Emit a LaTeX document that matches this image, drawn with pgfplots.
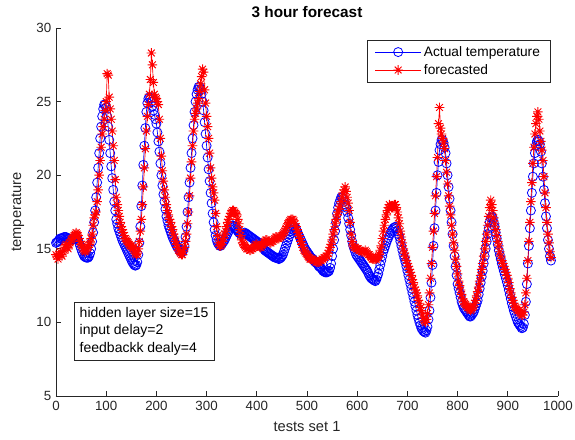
\documentclass[border=0pt]{standalone}
\usepackage{fontspec}
\setmainfont{Liberation Sans}
\usepackage{pgfplots}
\pgfplotsset{compat=1.18}

\definecolor{axgray}{gray}{0.15}

% MATLAB-style '*' marker: a plus and a cross on top of each other
\pgfdeclareplotmark{mstar}{%
  \pgfpathmoveto{\pgfqpoint{0pt}{\pgfplotmarksize}}%
  \pgfpathlineto{\pgfqpoint{0pt}{-\pgfplotmarksize}}%
  \pgfpathmoveto{\pgfqpoint{\pgfplotmarksize}{0pt}}%
  \pgfpathlineto{\pgfqpoint{-\pgfplotmarksize}{0pt}}%
  \pgfpathmoveto{\pgfqpoint{0.707\pgfplotmarksize}{0.707\pgfplotmarksize}}%
  \pgfpathlineto{\pgfqpoint{-0.707\pgfplotmarksize}{-0.707\pgfplotmarksize}}%
  \pgfpathmoveto{\pgfqpoint{0.707\pgfplotmarksize}{-0.707\pgfplotmarksize}}%
  \pgfpathlineto{\pgfqpoint{-0.707\pgfplotmarksize}{0.707\pgfplotmarksize}}%
  \pgfusepathqstroke}

\begin{document}
\begin{tikzpicture}
\begin{axis}[
    name=ax,
    width=376.5pt, height=276pt,
    scale only axis,
    xmin=0, xmax=1000, ymin=5, ymax=30,
    xtick={0,100,...,1000}, ytick={5,10,...,30},
    axis x line*=bottom, axis y line*=left,
    tick align=inside,
    major tick length=4pt,
    axis line style={axgray, line width=0.5pt},
    every tick/.style={axgray, line width=0.5pt},
    tick label style={font=\fontsize{10}{12}\selectfont, text=axgray},
    /pgf/number format/assume math mode=true,
    /pgf/number format/1000 sep={},
    title={\bfseries 3 hour forecast},
    title style={font=\fontsize{11.5}{13}\selectfont, yshift=-2pt},
    xlabel={tests set 1},
    ylabel={temperature},
    label style={font=\fontsize{11}{13}\selectfont, text=axgray},
    xlabel style={at={(axis description cs:0.5,-0.083)}, anchor=center},
    ylabel style={at={(axis description cs:-0.0757,0.5)}, anchor=center},
    legend style={at={(rel axis cs:0.986,0.968)}, anchor=north east,
        draw=axgray, line width=0.5pt, font=\fontsize{10.3}{12}\selectfont,
        inner xsep=6pt, inner ysep=2.5pt, row sep=0.5pt},
    legend cell align=left,
    legend image code/.code={
        \draw[mark repeat=2, mark phase=2] plot coordinates {(0cm,0cm) (0.6cm,0cm) (1.2cm,0cm)};
    },
]
% actual temperature
\addplot[blue, line width=0.5pt, mark=o, mark size=3.4pt, mark options={line width=0.6pt}] coordinates {
(0,15.4)(2,15.45)(4,15.5)(6,15.6)(8,15.7)(10,15.7)(12,15.7)(14,15.75)(16,15.8)(18,15.8)
(20,15.8)(22,15.75)(24,15.7)(26,15.65)(28,15.6)(30,15.6)(32,15.6)(34,15.65)(36,15.7)(38,15.75)
(40,15.8)(42,15.7)(44,15.6)(46,15.4)(48,15.2)(50,15.0)(52,14.8)(54,14.65)(56,14.5)(58,14.45)
(60,14.4)(62,14.4)(64,14.4)(66,14.5)(68,14.7)(70,15.0)(72,15.5)(74,16.1)(76,16.8)(78,17.6)
(80,18.5)(82,19.5)(84,20.5)(86,21.5)(88,22.5)(90,23.3)(92,24.0)(94,24.5)(96,24.8)(98,24.8)
(100,24.6)(102,24.0)(104,23.3)(106,22.4)(108,21.5)(110,20.6)(112,19.8)(114,19.0)(116,18.2)(118,17.6)
(120,17.0)(122,16.7)(124,16.4)(126,16.2)(128,16.0)(130,15.8)(132,15.6)(134,15.45)(136,15.3)(138,15.15)
(140,15.0)(142,14.85)(144,14.7)(146,14.55)(148,14.4)(150,14.25)(152,14.1)(154,14.0)(156,13.9)(158,13.85)
(160,13.9)(162,14.1)(164,14.6)(166,15.4)(168,16.5)(170,17.9)(172,19.3)(174,20.7)(176,22.0)(178,23.2)
(180,24.3)(182,24.9)(184,25.2)(186,25.3)(188,25.2)(190,25.0)(192,24.7)(194,24.4)(196,24.1)(198,23.8)
(200,23.5)(202,22.9)(204,22.3)(206,21.6)(208,20.8)(210,20.0)(212,19.3)(214,18.7)(216,18.2)(218,17.7)
(220,17.2)(222,16.9)(224,16.6)(226,16.4)(228,16.2)(230,16.0)(232,15.8)(234,15.65)(236,15.5)(238,15.35)
(240,15.2)(242,15.1)(244,15.0)(246,14.9)(248,14.8)(250,14.75)(252,14.8)(254,14.95)(256,15.2)(258,15.8)
(260,16.5)(262,17.5)(264,18.5)(266,19.5)(268,20.5)(270,21.5)(272,22.5)(274,23.4)(276,24.3)(278,25.0)
(280,25.5)(282,25.8)(284,26.0)(286,26.0)(288,25.8)(290,25.5)(292,25.0)(294,24.4)(296,23.6)(298,22.8)
(300,22.0)(302,21.2)(304,20.4)(306,19.6)(308,18.8)(310,18.1)(312,17.4)(314,16.8)(316,16.3)(318,15.9)
(320,15.6)(322,15.4)(324,15.3)(326,15.2)(328,15.2)(330,15.3)(332,15.4)(334,15.5)(336,15.6)(338,15.75)
(340,15.9)(342,16.05)(344,16.2)(346,16.35)(348,16.5)(350,16.55)(352,16.6)(354,16.55)(356,16.5)(358,16.4)
(360,16.3)(362,16.2)(364,16.1)(366,16.05)(368,16.0)(370,16.0)(372,16.0)(374,16.05)(376,16.1)(378,16.05)
(380,16.0)(382,15.95)(384,15.9)(386,15.85)(388,15.8)(390,15.75)(392,15.7)(394,15.65)(396,15.6)(398,15.55)
(400,15.5)(402,15.45)(404,15.4)(406,15.35)(408,15.3)(410,15.2)(412,15.1)(414,15.0)(416,14.9)(418,14.85)
(420,14.8)(422,14.75)(424,14.7)(426,14.65)(428,14.6)(430,14.55)(432,14.5)(434,14.45)(436,14.4)(438,14.4)
(440,14.4)(442,14.35)(444,14.3)(446,14.35)(448,14.4)(450,14.5)(452,14.6)(454,14.8)(456,15.0)(458,15.2)
(460,15.4)(462,15.6)(464,15.8)(466,16.0)(468,16.2)(470,16.3)(472,16.4)(474,16.45)(476,16.5)(478,16.35)
(480,16.2)(482,16.05)(484,15.9)(486,15.75)(488,15.6)(490,15.45)(492,15.3)(494,15.15)(496,15.0)(498,14.9)
(500,14.8)(502,14.7)(504,14.6)(506,14.5)(508,14.4)(510,14.35)(512,14.3)(514,14.2)(516,14.1)(518,14.05)
(520,14.0)(522,13.9)(524,13.8)(526,13.75)(528,13.7)(530,13.6)(532,13.5)(534,13.45)(536,13.4)(538,13.4)
(540,13.4)(542,13.45)(544,13.5)(546,13.7)(548,14.0)(550,14.5)(552,15.0)(554,15.6)(556,16.2)(558,16.8)
(560,17.4)(562,17.8)(564,18.1)(566,18.3)(568,18.5)(570,18.5)(572,18.4)(574,18.2)(576,18.0)(578,17.8)
(580,17.5)(582,17.1)(584,16.7)(586,16.3)(588,15.9)(590,15.5)(592,15.2)(594,15.0)(596,14.8)(598,14.6)
(600,14.5)(602,14.4)(604,14.3)(606,14.2)(608,14.1)(610,14.0)(612,13.9)(614,13.8)(616,13.7)(618,13.6)
(620,13.5)(622,13.35)(624,13.2)(626,13.1)(628,13.0)(630,12.95)(632,12.9)(634,12.85)(636,12.8)(638,12.9)
(640,13.1)(642,13.3)(644,13.6)(646,13.9)(648,14.2)(650,14.5)(652,14.8)(654,15.0)(656,15.2)(658,15.4)
(660,15.6)(662,15.75)(664,15.9)(666,16.05)(668,16.2)(670,16.3)(672,16.4)(674,16.45)(676,16.5)(678,16.4)
(680,16.2)(682,16.0)(684,15.8)(686,15.5)(688,15.2)(690,14.9)(692,14.6)(694,14.35)(696,14.1)(698,13.8)
(700,13.5)(702,13.2)(704,12.9)(706,12.6)(708,12.3)(710,12.0)(712,11.7)(714,11.4)(716,11.1)(718,10.8)
(720,10.5)(722,10.25)(724,10.0)(726,9.8)(728,9.6)(730,9.5)(732,9.4)(734,9.35)(736,9.3)(738,9.45)
(740,9.7)(742,10.2)(744,10.8)(746,11.7)(748,12.7)(750,13.9)(752,15.2)(754,16.4)(756,17.6)(758,18.8)
(760,20.0)(762,20.9)(764,21.7)(766,22.1)(768,22.4)(770,22.4)(772,22.2)(774,21.9)(776,21.5)(778,20.8)
(780,20.0)(782,19.2)(784,18.4)(786,17.6)(788,16.8)(790,16.0)(792,15.2)(794,14.5)(796,13.8)(798,13.2)
(800,12.6)(802,12.3)(804,12.0)(806,11.7)(808,11.4)(810,11.2)(812,11.0)(814,10.9)(816,10.8)(818,10.7)
(820,10.6)(822,10.5)(824,10.4)(826,10.4)(828,10.5)(830,10.6)(832,10.7)(834,10.9)(836,11.1)(838,11.3)
(840,11.5)(842,11.9)(844,12.3)(846,12.7)(848,13.1)(850,13.5)(852,14.0)(854,14.5)(856,15.0)(858,15.5)
(860,16.0)(862,16.4)(864,16.8)(866,17.1)(868,17.2)(870,17.1)(872,16.8)(874,16.5)(876,16.1)(878,15.7)
(880,15.3)(882,14.9)(884,14.6)(886,14.3)(888,14.0)(890,13.75)(892,13.5)(894,13.25)(896,13.0)(898,12.75)
(900,12.5)(902,12.2)(904,11.9)(906,11.6)(908,11.3)(910,11.05)(912,10.8)(914,10.6)(916,10.4)(918,10.2)
(920,10.0)(922,9.9)(924,9.8)(926,9.7)(928,9.6)(930,9.65)(932,9.9)(934,10.5)(936,11.4)(938,12.6)
(940,14.0)(942,15.2)(944,16.4)(946,17.6)(948,18.8)(950,19.9)(952,20.8)(954,21.5)(956,22.0)(958,22.3)
(960,22.4)(962,22.3)(964,22.1)(966,21.6)(968,20.8)(970,19.9)(972,19.0)(974,18.1)(976,17.2)(978,16.4)
(980,15.6)(982,15.0)(984,14.5)(986,14.2)
};
\addlegendentry{Actual temperature}
% forecasted
\addplot[red, line width=0.5pt, mark=mstar, mark size=3.6pt, mark options={line width=0.7pt}] coordinates {
(0,14.6)(2,14.5)(4,14.3)(6,14.6)(8,14.8)(10,14.6)(12,14.5)(14,14.8)(16,14.9)(18,15.2)
(20,15.3)(22,15.1)(24,15.0)(26,15.3)(28,15.4)(30,15.6)(32,15.7)(34,15.8)(36,15.9)(38,16.0)
(40,16.1)(42,16.0)(44,15.9)(46,15.7)(48,15.5)(50,15.3)(52,15.2)(54,15.0)(56,14.9)(58,14.8)
(60,14.9)(62,15.0)(64,15.1)(66,15.3)(68,15.4)(70,15.7)(72,16.0)(74,16.6)(76,17.1)(78,17.3)
(80,17.5)(82,18.2)(84,19.0)(86,20.0)(88,21.0)(90,21.9)(92,22.8)(94,23.3)(96,23.8)(98,24.4)
(100,25.0)(102,26.9)(104,26.8)(106,25.3)(108,24.5)(110,23.8)(112,23.0)(114,22.0)(116,21.0)(118,19.7)
(120,18.5)(122,18.0)(124,17.6)(126,17.2)(128,16.8)(130,16.5)(132,16.3)(134,16.1)(136,15.9)(138,15.7)
(140,15.6)(142,15.5)(144,15.4)(146,15.3)(148,15.2)(150,15.2)(152,15.1)(154,15.0)(156,14.9)(158,14.7)
(160,14.6)(162,14.7)(164,15.0)(166,15.5)(168,16.2)(170,17.0)(172,18.0)(174,19.2)(176,20.5)(178,21.8)
(180,23.0)(182,24.0)(184,24.8)(186,25.5)(188,26.5)(190,28.3)(192,27.5)(194,26.3)(196,25.5)(198,25.3)
(200,25.2)(202,25.0)(204,24.8)(206,23.8)(208,22.5)(210,21.3)(212,20.3)(214,19.6)(216,19.0)(218,18.5)
(220,18.0)(222,17.6)(224,17.3)(226,17.0)(228,16.8)(230,16.5)(232,16.3)(234,16.0)(236,15.8)(238,15.5)
(240,15.3)(242,15.1)(244,14.9)(246,14.8)(248,14.7)(250,14.6)(252,14.6)(254,14.8)(256,15.1)(258,15.5)
(260,16.0)(262,16.7)(264,17.5)(266,18.6)(268,19.8)(270,20.9)(272,22.0)(274,23.0)(276,23.8)(278,24.2)
(280,24.5)(282,24.9)(284,25.2)(286,25.7)(288,26.2)(290,26.7)(292,27.2)(294,27.0)(296,25.8)(298,24.9)
(300,24.0)(302,23.3)(304,22.5)(306,21.5)(308,20.5)(310,19.8)(312,19.2)(314,18.8)(316,18.3)(318,17.4)
(320,16.5)(322,15.9)(324,15.4)(326,15.2)(328,15.2)(330,15.3)(332,15.5)(334,15.7)(336,16.0)(338,16.2)
(340,16.5)(342,16.8)(344,17.0)(346,17.2)(348,17.4)(350,17.5)(352,17.6)(354,17.6)(356,17.5)(358,17.4)
(360,17.3)(362,17.0)(364,16.7)(366,16.3)(368,15.9)(370,15.6)(372,15.4)(374,15.3)(376,15.2)(378,15.1)
(380,15.0)(382,15.0)(384,15.0)(386,14.9)(388,14.9)(390,15.0)(392,15.0)(394,15.1)(396,15.2)(398,15.3)
(400,15.3)(402,15.2)(404,15.2)(406,15.1)(408,15.1)(410,15.2)(412,15.3)(414,15.4)(416,15.5)(418,15.6)
(420,15.6)(422,15.5)(424,15.5)(426,15.4)(428,15.4)(430,15.5)(432,15.5)(434,15.6)(436,15.7)(438,15.8)
(440,15.8)(442,15.7)(444,15.7)(446,15.8)(448,15.8)(450,15.9)(452,16.0)(454,16.1)(456,16.2)(458,16.4)
(460,16.5)(462,16.7)(464,16.8)(466,16.9)(468,17.0)(470,17.0)(472,17.0)(474,16.9)(476,16.7)(478,16.5)
(480,16.3)(482,16.1)(484,15.9)(486,15.7)(488,15.5)(490,15.3)(492,15.1)(494,14.9)(496,14.8)(498,14.7)
(500,14.6)(502,14.5)(504,14.4)(506,14.3)(508,14.3)(510,14.3)(512,14.3)(514,14.2)(516,14.2)(518,14.1)
(520,14.1)(522,14.1)(524,14.1)(526,14.2)(528,14.2)(530,14.3)(532,14.3)(534,14.4)(536,14.4)(538,14.5)
(540,14.5)(542,14.7)(544,14.9)(546,15.1)(548,15.3)(550,15.6)(552,16.0)(554,16.3)(556,16.7)(558,17.0)
(560,17.3)(562,17.5)(564,17.7)(566,17.9)(568,18.2)(570,18.5)(572,18.8)(574,19.0)(576,19.2)(578,18.9)
(580,18.5)(582,18.1)(584,17.6)(586,16.8)(588,16.0)(590,15.5)(592,15.2)(594,15.1)(596,15.1)(598,15.0)
(600,15.0)(602,15.0)(604,14.9)(606,14.9)(608,14.8)(610,14.8)(612,14.8)(614,14.8)(616,14.9)(618,14.8)
(620,14.7)(622,14.6)(624,14.6)(626,14.5)(628,14.4)(630,14.3)(632,14.3)(634,14.3)(636,14.3)(638,14.3)
(640,14.4)(642,14.5)(644,14.6)(646,14.9)(648,15.2)(650,15.7)(652,16.2)(654,16.6)(656,17.0)(658,17.3)
(660,17.6)(662,17.8)(664,18.0)(666,17.9)(668,17.8)(670,17.8)(672,17.9)(674,18.0)(676,18.0)(678,17.8)
(680,17.5)(682,17.1)(684,16.7)(686,16.2)(688,15.8)(690,15.4)(692,15.0)(694,14.7)(696,14.5)(698,14.2)
(700,14.0)(702,13.8)(704,13.6)(706,13.4)(708,13.2)(710,12.9)(712,12.7)(714,12.4)(716,12.2)(718,12.0)
(720,11.8)(722,11.5)(724,11.3)(726,11.0)(728,10.8)(730,10.5)(732,10.3)(734,10.1)(736,10.0)(738,10.2)
(740,10.6)(742,11.2)(744,12.0)(746,13.0)(748,14.0)(750,15.1)(752,16.2)(754,17.4)(756,18.6)(758,19.9)
(760,21.2)(762,23.5)(764,24.6)(766,23.2)(768,22.8)(770,22.5)(772,22.2)(774,21.8)(776,21.0)(778,20.2)
(780,19.4)(782,18.6)(784,17.9)(786,17.3)(788,16.6)(790,16.0)(792,15.4)(794,14.9)(796,14.3)(798,13.8)
(800,13.3)(802,12.8)(804,12.5)(806,12.2)(808,11.9)(810,11.6)(812,11.4)(814,11.3)(816,11.2)(818,11.1)
(820,11.0)(822,11.0)(824,10.9)(826,10.8)(828,10.9)(830,11.0)(832,11.1)(834,11.3)(836,11.5)(838,11.8)
(840,12.1)(842,12.4)(844,12.8)(846,13.2)(848,13.6)(850,14.0)(852,14.5)(854,15.0)(856,15.5)(858,16.0)
(860,16.6)(862,17.2)(864,17.8)(866,18.3)(868,18.0)(870,17.6)(872,17.1)(874,16.7)(876,16.3)(878,15.9)
(880,15.5)(882,15.2)(884,14.8)(886,14.5)(888,14.2)(890,14.0)(892,13.8)(894,13.6)(896,13.4)(898,13.2)
(900,13.0)(902,12.7)(904,12.3)(906,12.0)(908,11.7)(910,11.5)(912,11.3)(914,11.1)(916,11.0)(918,10.9)
(920,10.8)(922,10.8)(924,10.7)(926,10.6)(928,10.5)(930,10.5)(932,10.7)(934,11.2)(936,12.0)(938,13.0)
(940,14.2)(942,15.5)(944,16.8)(946,18.2)(948,19.5)(950,20.8)(952,21.9)(954,22.8)(956,23.5)(958,24.0)
(960,24.3)(962,23.8)(964,23.0)(966,22.3)(968,21.7)(970,21.0)(972,19.9)(974,18.8)(976,17.8)(978,16.8)
(980,16.0)(982,15.4)(984,14.8)(986,14.4)
};
\addlegendentry{forecasted}
\node[draw=axgray, line width=0.5pt, fill=white, anchor=north west, align=left,
      font=\fontsize{10.5}{13}\selectfont, inner sep=4pt]
    at (rel axis cs:0.036,0.256) {hidden layer size=15\\input delay=2\\feedbackk dealy=4};
\end{axis}
\pgfresetboundingbox
\path[use as bounding box] ([xshift=-42pt,yshift=-33pt]ax.south west) rectangle ([xshift=12.75pt,yshift=21pt]ax.north east);
\end{tikzpicture}
\end{document}
